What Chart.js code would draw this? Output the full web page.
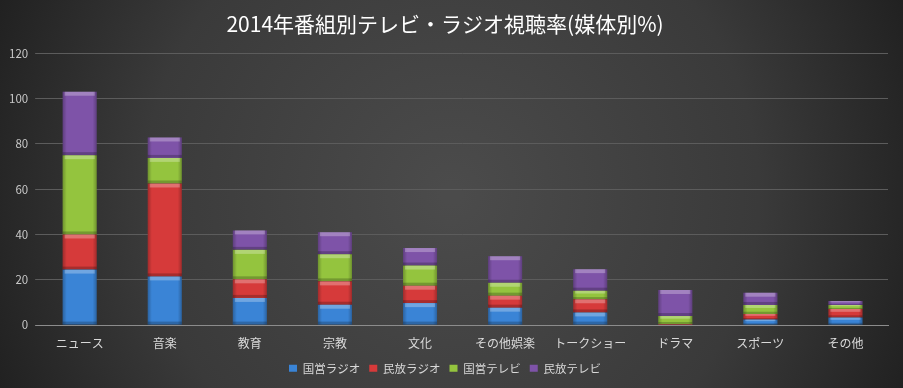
<!DOCTYPE html>
<html>
<head>
<meta charset="utf-8">
<script src="https://cdn.jsdelivr.net/npm/chart.js@4/dist/chart.umd.min.js"></script>
<style>
    html, body { margin: 0; padding: 0; background: #2b2b2b; }
    #wrap { width: 903px; height: 388px; }
</style>
</head>
<body>
<div id="wrap"><canvas id="viewChart" width="903" height="388"></canvas></div>
<script>
// 2014年 番組別 視聴率 (媒体別 %)
var categories = ['ニュース', '音楽', '教育', '宗教', '文化', 'その他娯楽', 'トークショー', 'ドラマ', 'スポーツ', 'その他'];
var kokueiRadio = [24.5, 21.5, 12, 9, 9.7, 7.7, 5.6, 0, 2.5, 3.4];
var minpoRadio = [15.5, 41, 8.2, 10.3, 7.7, 5.3, 5.8, 0.5, 2.4, 3.7];
var kokueiTv = [35, 11.3, 13, 12, 8.9, 5.7, 3.8, 3.5, 4, 1.8];
var minpoTv = [28, 9, 8.6, 9.7, 7.7, 11.7, 9.5, 11.5, 5.4, 1.7];
var yTicks = [0, 20, 40, 60, 80, 100, 120];

(function () {
    'use strict';

    var fontFamily = '"Noto Sans CJK JP", "Noto Sans", sans-serif';

    // Dark radial backdrop
    var backdrop = {
        id: 'backdrop',
        beforeDraw: function (chart) {
            var ctx = chart.ctx;
            var w = chart.width, h = chart.height;
            ctx.save();
            var g = ctx.createRadialGradient(w * 0.5, h * 0.5, 10, w * 0.5, h * 0.5, w * 0.56);
            g.addColorStop(0, '#4b4b4b');
            g.addColorStop(0.6, '#3a3a3a');
            g.addColorStop(1, '#1f1f1f');
            ctx.fillStyle = g;
            ctx.fillRect(0, 0, w, h);
            ctx.restore();
        }
    };

    // Bevel look on top of each bar segment
    var bevel = {
        id: 'bevel',
        afterDatasetsDraw: function (chart) {
            var ctx = chart.ctx;
            chart.data.datasets.forEach(function (ds, i) {
                var meta = chart.getDatasetMeta(i);
                meta.data.forEach(function (bar) {
                    var left = bar.x - bar.width / 2;
                    var top = Math.min(bar.y, bar.base);
                    var hgt = Math.abs(bar.base - bar.y);
                    if (hgt < 1) { return; }
                    ctx.save();
                    var sg = ctx.createLinearGradient(left, 0, left + bar.width, 0);
                    sg.addColorStop(0, 'rgba(0,0,0,0.25)');
                    sg.addColorStop(0.12, 'rgba(0,0,0,0)');
                    sg.addColorStop(0.88, 'rgba(0,0,0,0)');
                    sg.addColorStop(1, 'rgba(0,0,0,0.25)');
                    ctx.fillStyle = sg;
                    ctx.fillRect(left, top, bar.width, hgt);
                    var th = Math.min(4, hgt / 3);
                    ctx.fillStyle = 'rgba(255,255,255,0.28)';
                    ctx.fillRect(left + 2, top, bar.width - 4, th);
                    ctx.fillStyle = 'rgba(0,0,0,0.22)';
                    ctx.fillRect(left, top + hgt - Math.min(3, hgt / 4), bar.width, Math.min(3, hgt / 4));
                    ctx.restore();
                });
            });
        }
    };

    function series(label, data, color) {
        return {
            label: label,
            data: data,
            backgroundColor: color,
            borderWidth: 0,
            barPercentage: 0.5,
            categoryPercentage: 0.8
        };
    }

    new Chart(document.getElementById('viewChart'), {
        type: 'bar',
        data: {
            labels: categories,
            datasets: [
                series('国営ラジオ', kokueiRadio, '#3a84d6'),
                series('民放ラジオ', minpoRadio, '#d63a3a'),
                series('国営テレビ', kokueiTv, '#94c43e'),
                series('民放テレビ', minpoTv, '#7e53a8')
            ]
        },
        options: {
            responsive: false,
            animation: false,
            layout: { padding: { left: 2, right: 15, top: 0, bottom: 4 } },
            plugins: {
                title: {
                    display: true,
                    text: '2014年番組別テレビ・ラジオ視聴率(媒体別%)',
                    color: '#ffffff',
                    font: { size: 21, weight: 'normal', family: fontFamily },
                    padding: { top: 11, bottom: 17 }
                },
                legend: {
                    position: 'bottom',
                    labels: {
                        color: '#d9d9d9',
                        boxWidth: 8,
                        boxHeight: 7,
                        padding: 9,
                        font: { size: 11.5, family: fontFamily }
                    }
                },
                tooltip: { enabled: false }
            },
            scales: {
                x: {
                    stacked: true,
                    grid: { display: false },
                    border: { display: true, color: '#8c8c8c' },
                    ticks: { color: '#d9d9d9', font: { size: 12, family: fontFamily }, maxRotation: 0, padding: 3 }
                },
                y: {
                    stacked: true,
                    min: 0,
                    max: 120,
                    afterBuildTicks: function (axis) {
                        axis.ticks = yTicks.map(function (v) { return { value: v }; });
                    },
                    grid: {
                        color: function (c) { return c.index === 0 ? '#8c8c8c' : '#5c5c5c'; },
                        tickLength: 2
                    },
                    border: { display: false },
                    ticks: { color: '#c8c8c8', font: { size: 11.5, family: fontFamily }, padding: 7 }
                }
            }
        },
        plugins: [backdrop, bevel]
    });
})();
</script>
</body>
</html>
